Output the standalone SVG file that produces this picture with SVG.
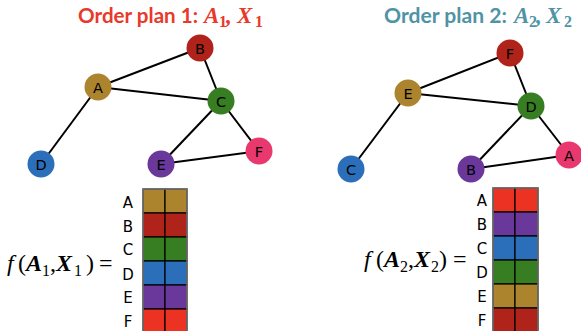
<svg xmlns="http://www.w3.org/2000/svg" width="581" height="331" viewBox="0 0 581 331">
<style>
.title{font-family:Lato,"Open Sans",sans-serif;font-weight:bold;font-size:20px}
.tm{font-family:"Liberation Serif",serif;font-style:italic;font-weight:bold;font-size:23px}
.ts{font-family:"Liberation Serif",serif;font-weight:bold;font-size:16px}
.edge{stroke:#000;stroke-width:2;fill:none}
.nl{font-family:"DejaVu Sans",sans-serif;font-size:14.5px;fill:#000;text-anchor:middle;dominant-baseline:central}
.ml{font-family:"DejaVu Sans",sans-serif;font-size:15px;fill:#000;text-anchor:middle;dominant-baseline:central}
.cell{stroke:#000;stroke-width:1.2}
.fm{font-family:"Liberation Serif",serif;font-size:24px;fill:#000}
.fi{font-style:italic}
.fb{font-style:italic;font-weight:bold}
.fs{font-size:16px}
.gold{fill:#ad842e}.dred{fill:#b0231a}.green{fill:#377e22}.blue{fill:#2b6fba}.purple{fill:#6a379a}.red{fill:#ec3323}.pink{fill:#e8386e}
</style>

<!-- Titles -->
<g id="title1" fill="#e8392b">
<text class="title" x="78" y="23" textLength="120" lengthAdjust="spacingAndGlyphs">Order plan 1:</text>
<text class="tm" x="204" y="23">A</text><text class="ts" x="219" y="27">1</text>
<text class="tm" x="226" y="23">,</text>
<text class="tm" x="237" y="23">X</text><text class="ts" x="255" y="27">1</text>
</g>
<g id="title2" fill="#4f93a5">
<text class="title" x="384" y="23" textLength="123" lengthAdjust="spacingAndGlyphs">Order plan 2:</text>
<text class="tm" x="514" y="23">A</text><text class="ts" x="529" y="27">2</text>
<text class="tm" x="536" y="23">,</text>
<text class="tm" x="546" y="23">X</text><text class="ts" x="564" y="27">2</text>
</g>

<!-- Connectors -->
<g id="edges">
<line class="edge" x1="98" y1="87" x2="200" y2="48"/>
<line class="edge" x1="98" y1="87" x2="221" y2="101"/>
<line class="edge" x1="98" y1="87" x2="41" y2="164"/>
<line class="edge" x1="200" y1="48" x2="221" y2="101"/>
<line class="edge" x1="221" y1="101" x2="161" y2="164"/>
<line class="edge" x1="221" y1="101" x2="259" y2="151"/>
<line class="edge" x1="161" y1="164" x2="259" y2="151"/>

<line class="edge" x1="408" y1="93" x2="510" y2="53"/>
<line class="edge" x1="408" y1="93" x2="531" y2="106"/>
<line class="edge" x1="408" y1="93" x2="351" y2="169"/>
<line class="edge" x1="510" y1="53" x2="531" y2="106"/>
<line class="edge" x1="531" y1="106" x2="471" y2="169"/>
<line class="edge" x1="531" y1="106" x2="569" y2="155"/>
<line class="edge" x1="471" y1="169" x2="569" y2="155"/>
</g>

<!-- Left graph nodes -->
<g id="g1-A"><circle cx="98" cy="87" r="13.5" class="gold"/><text class="nl" x="98" y="88">A</text></g>
<g id="g1-B"><circle cx="200" cy="48" r="13.5" class="dred"/><text class="nl" x="200" y="49">B</text></g>
<g id="g1-C"><circle cx="221" cy="101" r="13.5" class="green"/><text class="nl" x="221" y="102">C</text></g>
<g id="g1-D"><circle cx="41" cy="164" r="13.5" class="blue"/><text class="nl" x="41" y="165">D</text></g>
<g id="g1-E"><circle cx="161" cy="164" r="13.5" class="purple"/><text class="nl" x="161" y="165">E</text></g>
<g id="g1-F"><circle cx="259" cy="151" r="13.5" class="pink"/><text class="nl" x="259" y="152">F</text></g>

<!-- Right graph nodes -->
<g id="g2-E"><circle cx="408" cy="93" r="13.5" class="gold"/><text class="nl" x="408" y="94">E</text></g>
<g id="g2-F"><circle cx="510" cy="53" r="13.5" class="dred"/><text class="nl" x="510" y="54">F</text></g>
<g id="g2-D"><circle cx="531" cy="106" r="13.5" class="green"/><text class="nl" x="531" y="107">D</text></g>
<g id="g2-C"><circle cx="351" cy="169" r="13.5" class="blue"/><text class="nl" x="351" y="170">C</text></g>
<g id="g2-B"><circle cx="471" cy="169" r="13.5" class="purple"/><text class="nl" x="471" y="170">B</text></g>
<g id="g2-A"><circle cx="569" cy="155" r="13.5" class="pink"/><text class="nl" x="569" y="156">A</text></g>

<!-- Left formula -->
<g id="formula1" class="fm">
<text x="7" y="271"><tspan class="fi">f</tspan></text>
<text x="18" y="271">(</text>
<text x="26" y="271" class="fb">A</text>
<text x="42" y="276" class="fs">1</text>
<text x="50" y="271">,</text>
<text x="56" y="271" class="fb">X</text>
<text x="74" y="276" class="fs">1</text>
<text x="86" y="271">)</text>
<text x="99" y="271">=</text>
</g>

<!-- Left matrix -->
<g id="matrix1">
<rect class="cell gold" x="143" y="189" width="22" height="24"/><rect class="cell gold" x="165" y="189" width="22" height="24"/>
<rect class="cell dred" x="143" y="213" width="22" height="24"/><rect class="cell dred" x="165" y="213" width="22" height="24"/>
<rect class="cell green" x="143" y="237" width="22" height="24"/><rect class="cell green" x="165" y="237" width="22" height="24"/>
<rect class="cell blue" x="143" y="261" width="22" height="24"/><rect class="cell blue" x="165" y="261" width="22" height="24"/>
<rect class="cell purple" x="143" y="285" width="22" height="24"/><rect class="cell purple" x="165" y="285" width="22" height="24"/>
<rect class="cell red" x="143" y="309" width="22" height="24"/><rect class="cell red" x="165" y="309" width="22" height="24"/>
<path d="M143 340 V189 H187 V340" fill="none" stroke="#777" stroke-width="1.5"/>
<text class="ml" x="128" y="203">A</text>
<text class="ml" x="128" y="227">B</text>
<text class="ml" x="128" y="250">C</text>
<text class="ml" x="128" y="275">D</text>
<text class="ml" x="128" y="298">E</text>
<text class="ml" x="128" y="322">F</text>
</g>

<!-- Right formula -->
<g id="formula2" class="fm">
<text x="364" y="267"><tspan class="fi">f</tspan></text>
<text x="376" y="267">(</text>
<text x="384" y="267" class="fb">A</text>
<text x="400" y="272" class="fs">2</text>
<text x="408" y="267">,</text>
<text x="414" y="267" class="fb">X</text>
<text x="431" y="272" class="fs">2</text>
<text x="439" y="267">)</text>
<text x="453" y="267">=</text>
</g>

<!-- Right matrix -->
<g id="matrix2">
<rect class="cell red" x="493" y="188" width="22" height="24"/><rect class="cell red" x="515" y="188" width="23" height="24"/>
<rect class="cell purple" x="493" y="212" width="22" height="24"/><rect class="cell purple" x="515" y="212" width="23" height="24"/>
<rect class="cell blue" x="493" y="236" width="22" height="24"/><rect class="cell blue" x="515" y="236" width="23" height="24"/>
<rect class="cell green" x="493" y="260" width="22" height="24"/><rect class="cell green" x="515" y="260" width="23" height="24"/>
<rect class="cell gold" x="493" y="284" width="22" height="24"/><rect class="cell gold" x="515" y="284" width="23" height="24"/>
<rect class="cell dred" x="493" y="308" width="22" height="24"/><rect class="cell dred" x="515" y="308" width="23" height="24"/>
<path d="M493 340 V188 H538 V340" fill="none" stroke="#777" stroke-width="1.5"/>
<text class="ml" x="482" y="201">A</text>
<text class="ml" x="482" y="225">B</text>
<text class="ml" x="482" y="249">C</text>
<text class="ml" x="482" y="273">D</text>
<text class="ml" x="482" y="297">E</text>
<text class="ml" x="482" y="321">F</text>
</g>
</svg>
